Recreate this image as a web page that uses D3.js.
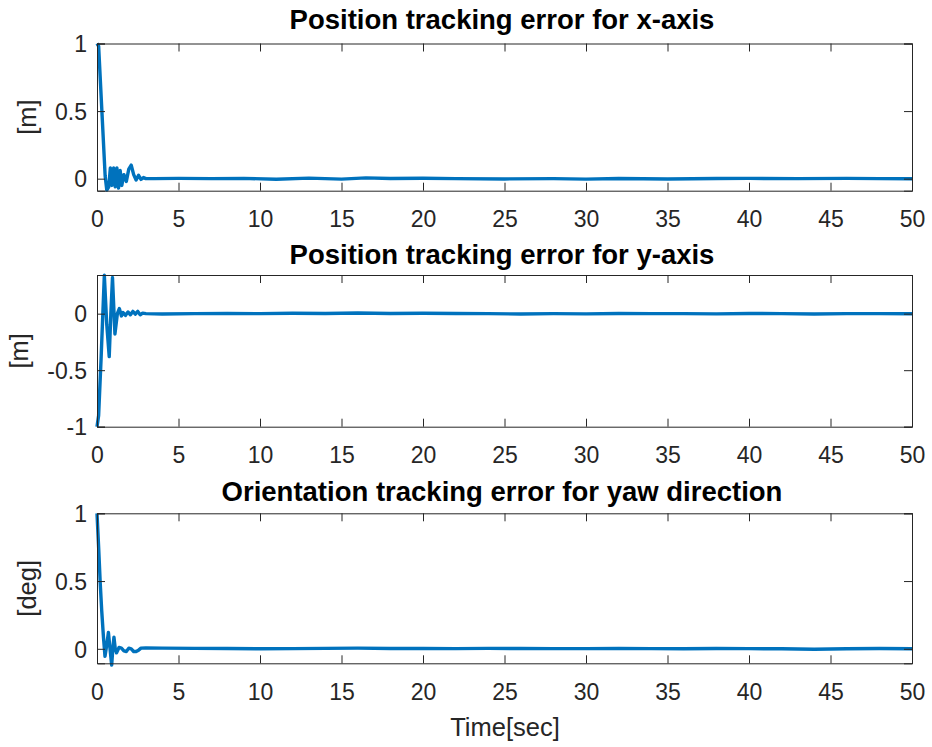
<!DOCTYPE html>
<html><head><meta charset="utf-8">
<script src="https://cdn.jsdelivr.net/npm/d3@7"></script>
<style>body{margin:0;background:#fff}svg{display:block}text{font-family:"Liberation Sans",Arial,Helvetica,sans-serif}</style>
</head><body><svg id="c" width="932" height="747"></svg>
<script>
const titles = ["Position tracking error for x-axis","Position tracking error for y-axis","Orientation tracking error for yaw direction"];
const yLabels = ["[m]","[m]","[deg]"];
const xTicks = [0,5,10,15,20,25,30,35,40,45,50];
const yTicks1 = [0,0.5,1], yTicks2 = [-1,-0.5,0], yTicks3 = [0,0.5,1];
const yDomain1 = [-0.089,1], yDomain2 = [-1,0.342], yDomain3 = [-0.107,1];
const t1 = [0,0.1,0.3,0.5,0.6,0.72,0.82,0.92,1.02,1.12,1.22,1.32,1.42,1.52,1.65,1.8,1.95,2.1,2.25,2.4,2.55,2.7,2.85,3.0,3.5,5,7,9,11,13,15,16.5,18,20,22,25,28,30,32,35,38,40,43,46,48,50];
const v1 = [1,0.98,0.5,0.02,-0.085,-0.06,0.08,-0.05,0.08,-0.06,0.08,-0.07,0.06,-0.05,0.03,-0.02,0.07,0.1,0.03,-0.01,0.025,-0.005,0.008,0,0,0.002,0,0.002,-0.004,0.004,-0.003,0.006,0.001,0.003,0,-0.002,0,-0.003,0.001,-0.002,0.001,0.002,0,0.002,0,-0.001];
const t2 = [0,0.1,0.25,0.45,0.6,0.75,0.85,0.95,1.1,1.25,1.37,1.5,1.6,1.75,1.9,2.05,2.2,2.35,2.5,2.65,2.8,3.0,4,6,8,10,12,14,16,18,20,22,24,26,28,30,32,34,36,38,40,42,44,46,48,50];
const v2 = [-1,-0.9,-0.4,0.34,-0.1,-0.38,0.0,0.32,-0.18,0.0,0.045,-0.02,0.01,-0.015,0.015,-0.01,0.02,-0.005,0.02,-0.01,0.005,0,-0.003,0,0.002,0,0.004,0.002,0.006,0.001,0.004,0.002,0,-0.003,0,-0.002,0.002,0,0,-0.002,0.002,0,-0.003,0,0,-0.001];
const t3 = [0,0.1,0.2,0.29,0.4,0.49,0.6,0.7,0.8,0.9,0.97,1.04,1.12,1.2,1.35,1.5,1.65,1.8,1.95,2.1,2.25,2.4,2.55,2.7,3.0,4,6,8,10,12,14,16,18,20,22,24,26,28,30,32,34,36,38,40,42,44,46,48,50];
const v3 = [1,0.75,0.48,0.28,0.08,-0.055,0.03,0.12,0.0,-0.12,0.0,0.085,0.0,-0.03,0.01,0.005,-0.015,-0.02,0.005,0,-0.02,-0.02,-0.01,0.005,0.006,0.005,0.003,0.002,0,0.001,0.003,0.005,0.002,0.002,0.001,0.003,0.002,0.001,0.001,0.002,0.001,0,0.002,0.001,0,-0.003,0,0.002,0];

const panels = [
  {top:43.5,bottom:190.7,dom:yDomain1,ticks:yTicks1,t:t1,v:v1,titleY:29,labelX:28},
  {top:275,bottom:426.7,dom:yDomain2,ticks:yTicks2,t:t2,v:v2,titleY:264,labelX:20},
  {top:513.3,bottom:663.3,dom:yDomain3,ticks:yTicks3,t:t3,v:v3,titleY:501,labelX:28}
];
const svg = d3.select("#c");
const x = d3.scaleLinear().domain([0,50]).range([97,912]);
const ink = "#262626";
const fmt = d => String(d);
panels.forEach((p,i)=>{
  const y = d3.scaleLinear().domain(p.dom).range([p.bottom,p.top]);
  const g = svg.append("g");
  const data = p.t.map((tt,k)=>[tt,p.v[k]]);
  g.append("path").datum(data).attr("fill","none").attr("stroke","#0072BD").attr("stroke-width",3.4)
   .attr("stroke-linejoin","round")
   .attr("d",d3.line().x(d=>x(d[0])).y(d=>y(d[1])).curve(d3.curveLinear));
  const ax = g.append("g").attr("transform",`translate(0,${p.bottom})`).call(d3.axisBottom(x).tickValues(xTicks).tickSize(-8).tickPadding(20).tickFormat(fmt));
  const axT = g.append("g").attr("transform",`translate(0,${p.top})`).call(d3.axisTop(x).tickValues(xTicks).tickSize(-8).tickFormat(""));
  const ay = g.append("g").attr("transform",`translate(97,0)`).call(d3.axisLeft(y).tickValues(p.ticks).tickSize(-8).tickPadding(10).tickFormat(fmt));
  const ayR = g.append("g").attr("transform",`translate(912,0)`).call(d3.axisRight(y).tickValues(p.ticks).tickSize(-8).tickFormat(""));
  [ax,axT,ay,ayR].forEach(a=>{
    a.selectAll("path").attr("stroke",ink).attr("stroke-width",1);
    a.selectAll("line").attr("stroke",ink).attr("stroke-width",1);
    a.selectAll("text").attr("fill",ink).style("font-size","23px").style("font-family","'Liberation Sans',Arial,sans-serif");
  });
  ax.selectAll("text").attr("dy","0.71em");
  ay.selectAll("text").attr("dy","0.36em");
  g.append("text").attr("x",502).attr("y",p.titleY).attr("text-anchor","middle").attr("font-weight","bold").attr("font-size","27.5px").attr("fill","#000").text(titles[i]);
  const cy = (p.top+p.bottom)/2;
  g.append("text").attr("transform",`translate(${p.labelX+8},${cy}) rotate(-90)`).attr("text-anchor","middle").attr("font-size","25.5px").attr("fill",ink).text(yLabels[i]);
});
svg.append("text").attr("x",505).attr("y",736).attr("text-anchor","middle").attr("font-size","25.5px").attr("fill",ink).text("Time[sec]");
</script></body></html>
